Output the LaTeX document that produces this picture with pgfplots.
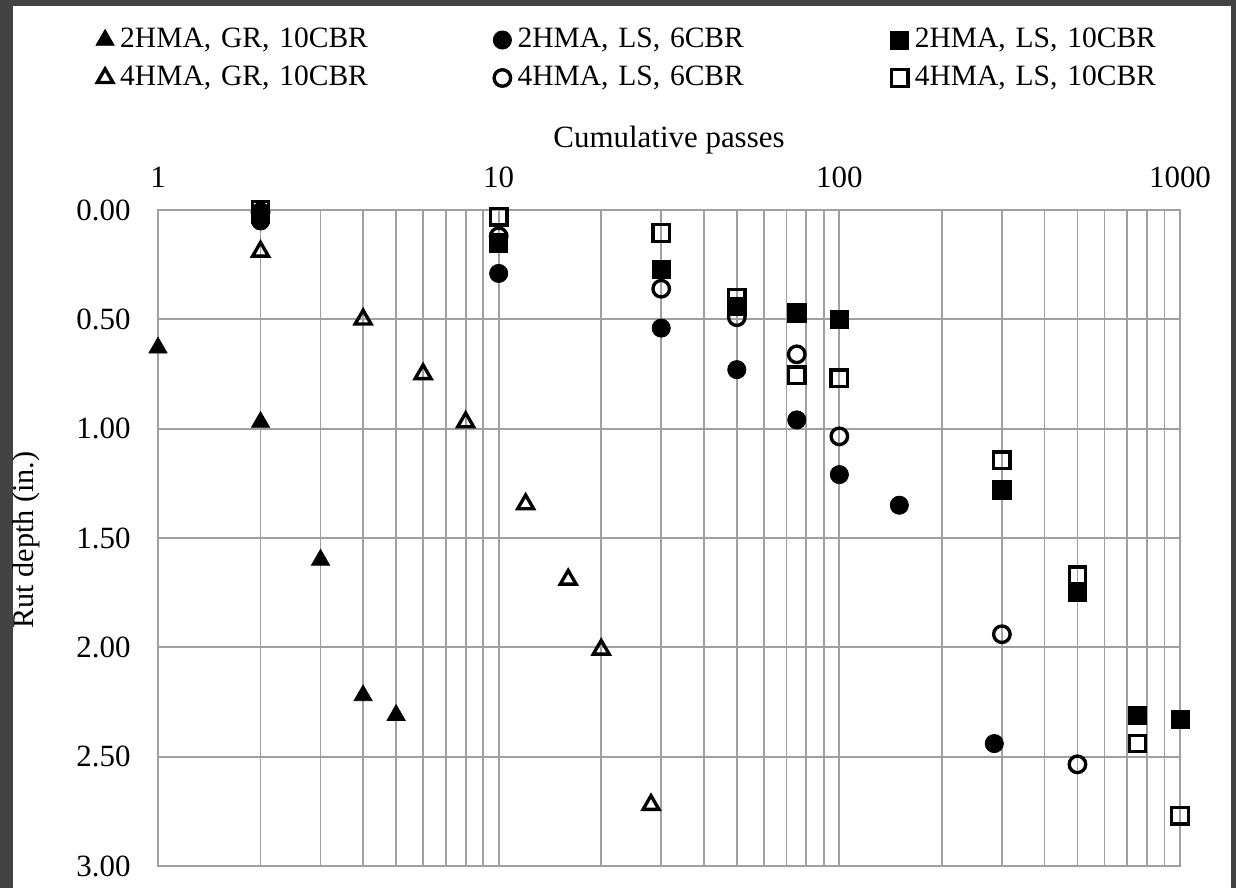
\documentclass[border=0pt]{standalone}
\usepackage{fontspec}
\setmainfont{Liberation Serif}
\usepackage{pgfplots}
\pgfplotsset{compat=1.18}
\definecolor{framec}{RGB}{67,67,67}
\definecolor{gridc}{RGB}{160,160,160}
\begin{document}
\begin{tikzpicture}
\useasboundingbox (0,0) rectangle (12.36,8.88);
\fill[framec] (0,0) rectangle (12.36,8.88);
\fill[white] (0.13,0) rectangle (12.31,8.82);
\begin{axis}[
  at={(1.58cm,0.22cm)}, anchor=south west,
  scale only axis, width=10.22cm, height=6.56cm,
  xmode=log, xmin=1, xmax=1000,
  ymin=0, ymax=3, y dir=reverse,
  xtick={1,10,100,1000}, xticklabels={1,10,100,1000},
  ytick={0,0.5,1,1.5,2,2.5,3}, yticklabels={0.00,0.50,1.00,1.50,2.00,2.50,3.00},
  xticklabel pos=upper,
  major tick length=0pt, minor tick length=0pt,
  xmajorgrids, xminorgrids, ymajorgrids,
  grid style={gridc, line width=0.5pt},
  minor grid style={gridc, line width=0.5pt},
  axis line style={gridc, line width=0.5pt},
  tick style={draw=none},
  xticklabel style={anchor=center, yshift=0.33cm, font=\fontsize{8.8}{10}\selectfont},
  yticklabel style={anchor=east, xshift=-0.15cm, font=\fontsize{8.8}{10}\selectfont},
  clip=false,
  legend columns=3,
  legend cell align=left,
  legend style={draw=none, fill=none, inner sep=0pt, outer sep=0pt,
    at={(axis description cs:-0.0607,1.2302)}, anchor=west,
    font=\fontsize{8.4}{10}\selectfont,
    nodes={inner xsep=0.06cm, inner ysep=0pt, text width=3.67cm, align=left, text height=0.21cm, text depth=0.06cm},
    row sep=0.11cm, column sep=0pt},
  legend image code/.code={\draw[#1] plot coordinates {(0.09cm,0cm)};},
]
% filled triangle
\addplot[only marks, black, mark=triangle*, mark size=3.0pt, mark options={fill=black, draw=black, line width=0.2pt}]
  coordinates {(1,0.63) (2,0.97) (3,1.60) (4,2.22) (5,2.31)};
\addlegendentry{2HMA, GR, 10CBR}
% filled circle
\addplot[only marks, black, mark=*, mark size=2.6pt, mark options={fill=black, draw=black, line width=0.2pt}]
  coordinates {(2,0.05) (10,0.29) (30,0.54) (50,0.73) (75,0.96) (100,1.21) (150,1.35) (285,2.44)};
\addlegendentry{2HMA, LS, 6CBR}
% filled square
\addplot[only marks, black, mark=square*, mark size=2.6pt, mark options={fill=black, draw=black, line width=0.2pt}]
  coordinates {(2,0.02) (10,0.15) (30,0.27) (50,0.44) (75,0.47) (100,0.50) (300,1.28) (500,1.75) (750,2.31) (1000,2.33)};
\addlegendentry{2HMA, LS, 10CBR}
% open triangle
\addplot[only marks, black, mark=triangle, mark size=2.6pt, mark options={draw=black, line width=0.95pt}]
  coordinates {(2,0.19) (4,0.50) (6,0.75) (8,0.97) (12,1.345) (16,1.69) (20,2.01) (28,2.72)};
\addlegendentry{4HMA, GR, 10CBR}
% open circle
\addplot[only marks, black, mark=o, mark size=2.35pt, mark options={draw=black, line width=0.95pt}]
  coordinates {(2,0.01) (10,0.12) (30,0.36) (50,0.49) (75,0.66) (100,1.035) (300,1.94) (500,2.535)};
\addlegendentry{4HMA, LS, 6CBR}
% open square
\addplot[only marks, black, mark=square, mark size=2.35pt, mark options={draw=black, line width=0.95pt}]
  coordinates {(2,0.00) (10,0.03) (30,0.105) (50,0.40) (75,0.755) (100,0.77) (300,1.145) (500,1.67) (750,2.44) (1000,2.77)};
\addlegendentry{4HMA, LS, 10CBR}
\end{axis}
\node[font=\fontsize{8.8}{10}\selectfont] at (6.69,7.48) {Cumulative passes};
\node[rotate=90, font=\fontsize{8.6}{10}\selectfont] at (0.26,3.48) {Rut depth (in.)};
\end{tikzpicture}
\end{document}
